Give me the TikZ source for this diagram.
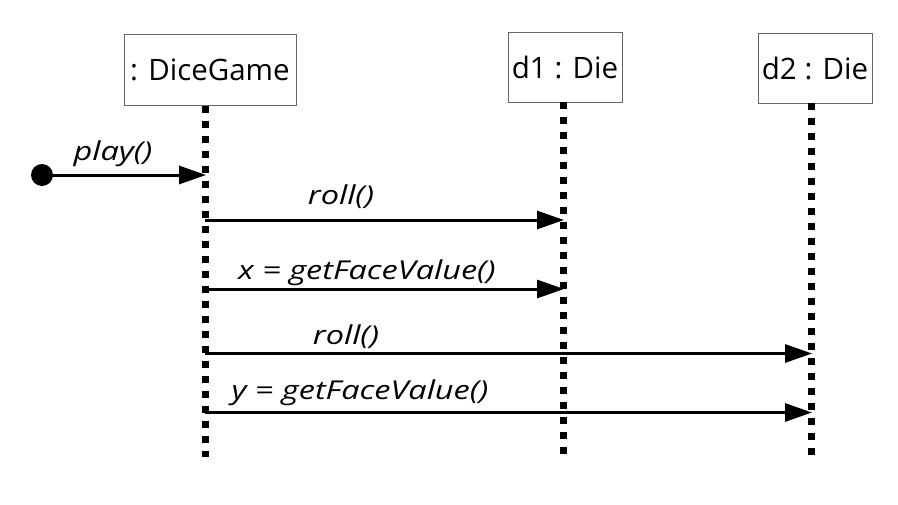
\documentclass[tikz,border=0pt]{standalone}
\usepackage{fontspec}
\setmainfont{Open Sans}
\newfontfamily\lblfont[FakeStretch=1.25]{Open Sans}
\usetikzlibrary{arrows.meta}
\tikzset{
  objbox/.style={draw=black!60, line width=1pt, fill=white, inner sep=0pt, font=\fontsize{29.5}{34}\selectfont},
  lifeline/.style={line width=7pt, dash pattern=on 7pt off 8pt},
  msg/.style={line width=3pt, -{Triangle[length=27pt,width=18pt]}, shorten >=-1pt},
  msglabel/.style={inner sep=0pt, anchor=base, font=\fontsize{26}{30}\lblfont\itshape}
}
\begin{document}
\begin{tikzpicture}[x=1pt,y=-1pt]
\useasboundingbox (0,0) rectangle (898,504);
% objects
\node[objbox, minimum width=172pt, minimum height=71pt] (game) at (210,69.5) {: DiceGame};
\node[objbox, minimum width=114pt, minimum height=70pt] (d1) at (565,67) {d1 : Die};
\node[objbox, minimum width=114pt, minimum height=70pt] (d2) at (815,68) {d2 : Die};
% lifeline ends
\coordinate (gt) at (205,105.5);
\coordinate (gb) at (205,457);
\coordinate (at) at (563,102);
\coordinate (ab) at (563,457);
\coordinate (bt) at (811,103);
\coordinate (bb) at (811,457);
\draw[lifeline] (gt) -- (gb);
\draw[lifeline] (at) -- (ab);
\draw[lifeline] (bt) -- (bb);
% found message
\node[circle, fill=black, minimum size=22pt, inner sep=0pt] (start) at (42,175) {};
\coordinate (m0) at (205,175);
\draw[msg] (start.center) -- (m0);
\node[msglabel] (l0) at (113,160) {play()};
% messages
\coordinate (s1) at (205,220); \coordinate (e1) at (563,220);
\coordinate (s2) at (205,289); \coordinate (e2) at (563,289);
\coordinate (s3) at (205,353.5); \coordinate (e3) at (811,353.5);
\coordinate (s4) at (205,412.5); \coordinate (e4) at (811,412.5);
\draw[msg] (s1) -- (e1);
\draw[msg] (s2) -- (e2);
\draw[msg] (s3) -- (e3);
\draw[msg] (s4) -- (e4);
\node[msglabel] (l1) at (341,204) {roll()};
\node[msglabel] (l2) at (367,279) {x = getFaceValue()};
\node[msglabel] (l3) at (346,344) {roll()};
\node[msglabel] (l4) at (360,399) {y = getFaceValue()};
\end{tikzpicture}
\end{document}
